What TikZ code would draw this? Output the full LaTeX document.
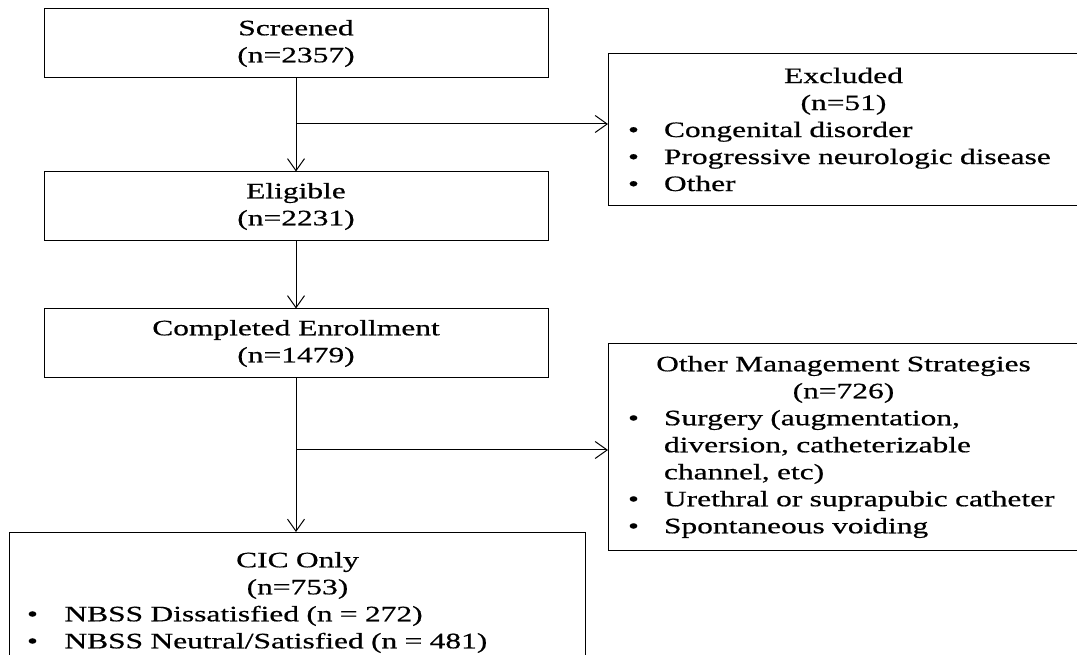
\documentclass[tikz,border=0pt]{standalone}
\usepackage{fontspec}
\setmainfont{Liberation Serif}[FakeStretch=1.43,FakeBold=0.6]
\usetikzlibrary{arrows.meta,positioning}

\newcommand{\blt}[2]{\hspace*{#1}\makebox[#2][l]{\textbullet}}

\begin{document}
\begin{tikzpicture}[x=1pt,y=1pt,->,>={Straight Barb[length=12pt,width=17pt]},line width=1pt,
  node distance=93pt,
  flowbox/.style={draw,rectangle,align=center,inner sep=0pt,minimum height=69pt,minimum width=504pt,
    font=\fontsize{22}{27}\selectfont},
  listbox/.style={draw,rectangle,anchor=north west,inner xsep=8.5pt,inner ysep=10pt,text width=#1,
    font=\fontsize{22}{27}\selectfont}]

\useasboundingbox (0,0) rectangle (1077,654);

\node[flowbox]  (screened) at (296,610.5)            {Screened\\(n=2357)};
\node[flowbox]  (eligible) [below=of screened]       {Eligible\\(n=2231)};
\node[flowbox]  (enrolled) [below=67pt of eligible]  {Completed Enrollment\\(n=1479)};

\node[listbox=453pt,minimum height=152pt] (excluded) at (608,601)
  {{\centering Excluded\\(n=51)\par}
   \blt{11pt}{36pt}Congenital disorder\\
   \blt{11pt}{36pt}Progressive neurologic disease\\
   \blt{11pt}{36pt}Other};
\node[listbox=453pt,minimum height=207pt] (other) at (608,311)
  {{\centering Other Management Strategies\\(n=726)\par}
   \blt{11pt}{36pt}Surgery (augmentation,\\
   \hspace*{47pt}diversion, catheterizable\\
   \hspace*{47pt}channel, etc)\\
   \blt{11pt}{36pt}Urethral or suprapubic catheter\\
   \blt{11pt}{36pt}Spontaneous voiding};
\node[listbox=559pt,minimum height=140pt] (cic) at (9,122)
  {{\centering CIC Only\\(n=753)\par}
   \blt{9pt}{37.5pt}NBSS Dissatisfied (n = 272)\\
   \blt{9pt}{37.5pt}NBSS Neutral/Satisfied (n = 481)};

\coordinate (split1) at (296,530);
\coordinate (split2) at (296,204);

\path
(screened) edge (eligible)
(eligible) edge (enrolled)
(enrolled) edge (enrolled |- cic.north)
(split1) edge (split1 -| excluded.west)
(split2) edge (split2 -| other.west)
;
\end{tikzpicture}
\end{document}
